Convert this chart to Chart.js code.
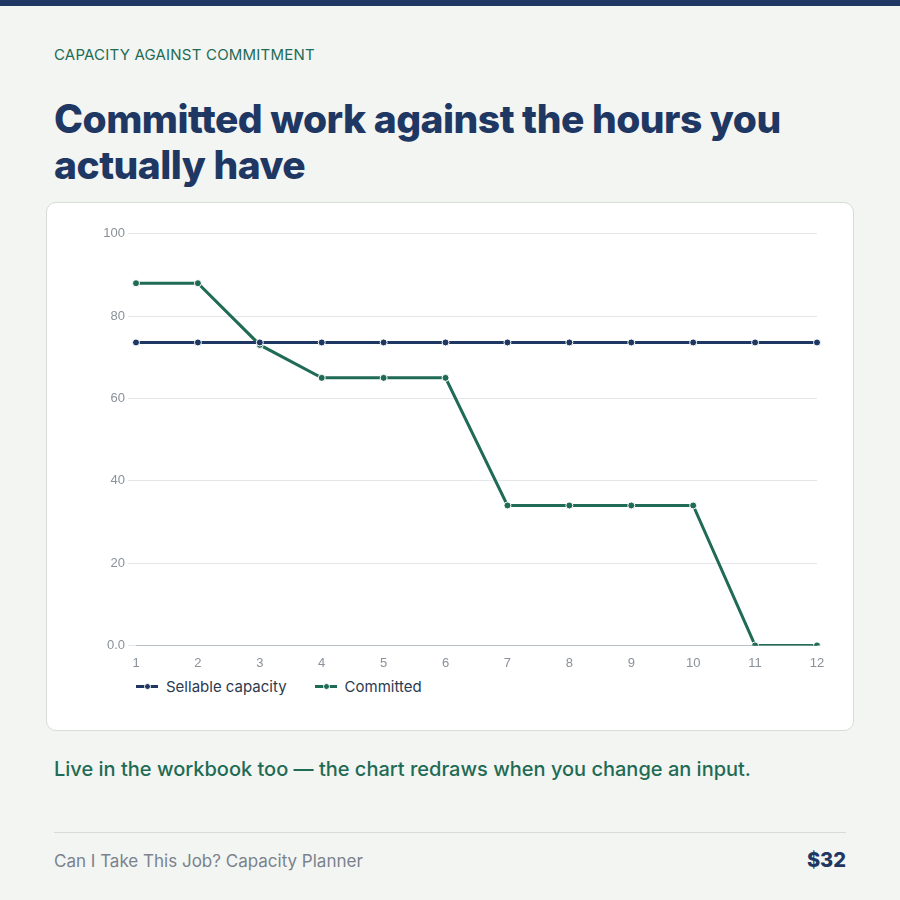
<!DOCTYPE html>
<html>
<head>
<meta charset="utf-8">
<script src="https://cdn.jsdelivr.net/npm/chart.js@4/dist/chart.umd.min.js"></script>
<style>
  body { margin: 0; width: 900px; height: 900px; background: #f3f5f2; font-family: "Inter", "Noto Sans", sans-serif; position: relative; overflow: hidden; }
  .topbar { position: absolute; left: 0; top: 0; width: 900px; height: 6px; background: #1f3763; }
  .eyebrow { position: absolute; left: 54px; top: 45px; font-size: 15px; color: #1f6b55; letter-spacing: 0.2px; }
  h1 { position: absolute; left: 54px; top: 96px; margin: 0; font-size: 39px; line-height: 46px; font-weight: 800; color: #1f3763; letter-spacing: -0.5px; }
  .card { position: absolute; left: 46px; top: 202px; width: 806px; height: 527px; background: #fff; border: 1px solid #d6dcd6; border-radius: 10px; }
  .card canvas { position: absolute; left: 10px; top: 20px; }
  .legend { position: absolute; left: 89px; top: 474px; display: flex; gap: 28px; font-size: 15px; color: #2b3a4f; }
  .legend span.item { display: flex; align-items: center; gap: 8px; }
  .sw { position: relative; width: 22px; height: 3px; }
  .sw i { position: absolute; left: 8px; top: -2px; width: 5px; height: 5px; border-radius: 50%; border: 1px solid #fff; }
  .caption { position: absolute; left: 54px; top: 757px; font-size: 20px; color: #1f6b55; font-weight: 500; }
  .rule { position: absolute; left: 54px; top: 832px; width: 792px; height: 1px; background: #d6dcd6; }
  .foot { position: absolute; left: 54px; top: 851px; font-size: 17px; color: #7a828c; }
  .price { position: absolute; right: 54px; top: 848px; font-size: 20px; font-weight: 800; color: #1f3763; }
</style>
</head>
<body>
<div class="topbar"></div>
<div class="eyebrow">CAPACITY AGAINST COMMITMENT</div>
<h1>Committed work against the hours you<br>actually have</h1>
<div class="card">
  <canvas id="c" width="788" height="450"></canvas>
  <div class="legend" id="legend"></div>
</div>
<div class="caption">Live in the workbook too — the chart redraws when you change an input.</div>
<div class="rule"></div>
<div class="foot">Can I Take This Job? Capacity Planner</div>
<div class="price">$32</div>
<script>
const weeks = ['1','2','3','4','5','6','7','8','9','10','11','12'];
const sellable = [73.6,73.6,73.6,73.6,73.6,73.6,73.6,73.6,73.6,73.6,73.6,73.6];
const committed = [88,88,73,65,65,65,34,34,34,34,0,0];
const seriesNames = ['Sellable capacity', 'Committed'];
const seriesColors = ['#1f3763', '#1f6b55'];

const chart = new Chart(document.getElementById('c'), {
  type: 'line',
  data: {
    labels: weeks,
    datasets: [sellable, committed].map((d, i) => ({
      label: seriesNames[i],
      data: d,
      borderColor: seriesColors[i],
      backgroundColor: seriesColors[i],
      borderWidth: 3,
      pointRadius: 3.5,
      pointBorderColor: '#fff',
      pointBorderWidth: 1,
      tension: 0
    }))
  },
  options: {
    responsive: false,
    animation: false,
    layout: { padding: { top: 8, right: 28, bottom: 0 } },
    plugins: { legend: { display: false }, tooltip: { enabled: false } },
    scales: {
      x: {
        offset: false,
        grid: { display: false },
        border: { color: '#b9c0c6' },
        ticks: { color: '#8a9199', font: { family: 'Liberation Sans', size: 13 }, padding: 2 }
      },
      y: {
        min: 0, max: 100,
        afterFit: s => { s.width = 79; },
        grid: { color: '#e4e7ea' },
        border: { display: false },
        ticks: { stepSize: 20, color: '#8a9199', font: { family: 'Liberation Sans', size: 13 },
                 callback: v => v === 0 ? '0.0' : v }
      }
    }
  }
});

document.getElementById('legend').innerHTML = chart.data.datasets.map(ds =>
  `<span class="item"><span class="sw" style="background:${ds.borderColor}"><i style="background:${ds.borderColor}"></i></span>${ds.label}</span>`
).join('');
</script>
</body>
</html>
